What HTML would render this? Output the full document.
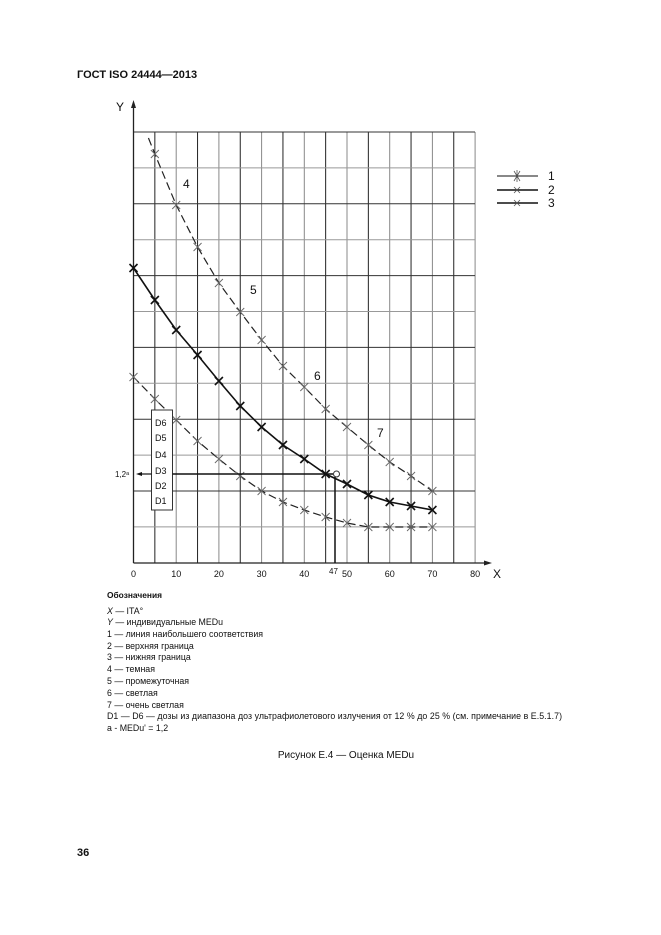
<!DOCTYPE html>
<html><head><meta charset="utf-8"><style>
body{margin:0;background:#fff}
svg{display:block}
text{font-family:"Liberation Sans",sans-serif;fill:#111}
</style></head><body>
<svg id="s" width="661" height="935" viewBox="0 0 661 935" xmlns="http://www.w3.org/2000/svg">
<text x="77" y="78" font-size="11" font-weight="bold">ГОСТ ISO 24444—2013</text>
<g id="grid" stroke="#444" stroke-width="1"></g>
<line x1="133.5" y1="563" x2="133.5" y2="104" stroke="#222" stroke-width="1.3"/>
<polygon points="133.5,100 131,108 136,108" fill="#222"/>
<text x="116" y="111" font-size="12">Y</text>
<line x1="133.5" y1="563" x2="488" y2="563" stroke="#222" stroke-width="1.3"/>
<polygon points="492,563 484,560.5 484,565.5" fill="#222"/>
<text x="493" y="578" font-size="12">X</text>
<g font-size="9" fill="#333" id="xl"></g>
<g id="curves" fill="none"></g>
<text x="183" y="188" font-size="12">4</text>
<text x="250" y="294" font-size="12">5</text>
<text x="314" y="380" font-size="12">6</text>
<text x="377" y="437" font-size="12">7</text>
<rect x="151.5" y="410" width="21" height="100" fill="#fff" stroke="#333"/>
<g font-size="9" fill="#333">
<text x="155" y="426">D6</text><text x="155" y="441">D5</text><text x="155" y="458">D4</text>
<text x="155" y="474">D3</text><text x="155" y="489">D2</text><text x="155" y="504">D1</text>
</g>
<line x1="140" y1="474" x2="151.5" y2="474" stroke="#111" stroke-width="1.2"/>
<line x1="172.5" y1="474" x2="333" y2="474" stroke="#111" stroke-width="1.5"/>
<polygon points="136,474 142,472 142,476" fill="#111"/>
<text x="115" y="477" font-size="8" fill="#333">1,2ᵃ</text>
<circle cx="336.5" cy="474" r="3" fill="#fff" stroke="#333"/>
<line x1="335" y1="477" x2="335" y2="563" stroke="#111" stroke-width="1.5"/>
<text x="329" y="574" font-size="8" fill="#333">47</text>
<g stroke="#111" stroke-width="1"><line x1="497" y1="176" x2="538" y2="176"/><line x1="497" y1="190" x2="538" y2="190" stroke-width="1.6"/><line x1="497" y1="203" x2="538" y2="203" stroke-width="1.6"/></g>
<g stroke="#555" stroke-width="0.8"><path d="M514,171 l6,10 M520,171 l-6,10 M517,170 v12"/><path d="M514,187 l6,6 M520,187 l-6,6"/><path d="M514,200 l6,6 M520,200 l-6,6"/></g>
<text x="548" y="180" font-size="12">1</text><text x="548" y="194" font-size="12">2</text><text x="548" y="207" font-size="12">3</text>
<g font-size="8.8" fill="#222">
<text x="107" y="598" font-weight="bold" font-size="8.4">Обозначения</text>
<text x="107" y="614"><tspan font-style="italic">X</tspan> — ITA°</text>
<text x="107" y="625"><tspan font-style="italic">Y</tspan> — индивидуальные MEDu</text>
<text x="107" y="637">1 — линия наибольшего соответствия</text>
<text x="107" y="649">2 — верхняя граница</text>
<text x="107" y="660">3 — нижняя граница</text>
<text x="107" y="672">4 — темная</text>
<text x="107" y="684">5 — промежуточная</text>
<text x="107" y="696">6 — светлая</text>
<text x="107" y="708">7 — очень светлая</text>
<text x="107" y="719" textLength="455" lengthAdjust="spacing">D1 — D6 — дозы из диапазона доз ультрафиолетового излучения от 12 % до 25 % (см. примечание в E.5.1.7)</text>
<text x="107" y="731">a - MEDu' = 1,2</text>
</g>
<text x="346" y="758" font-size="10" text-anchor="middle">Рисунок Е.4 — Оценка MEDu</text>
<text x="77" y="856" font-size="11" font-weight="bold">36</text>
</svg>
<script>
var NS="http://www.w3.org/2000/svg";
function X(v){return 133.5+v*4.27}
function el(p,t,a){var e=document.createElementNS(NS,t);for(var k in a)e.setAttribute(k,a[k]);p.appendChild(e);return e}
var g=document.getElementById('grid');
for(var i=1;i<=16;i++){var x=X(i*5);el(g,'line',{x1:x,y1:132,x2:x,y2:563,stroke:(i%2?'#222':'#888')})}
for(var j=0;j<12;j++){var y=132+j*35.9;el(g,'line',{x1:133.5,y1:y,x2:475,y2:y,stroke:(j%2?'#999':'#333')})}
var xl=document.getElementById('xl');
for(var v=0;v<=80;v+=10){var t=el(xl,'text',{x:X(v),y:577,'text-anchor':'middle'});t.textContent=v}
var c=document.getElementById('curves');
var xs=[0,5,10,15,20,25,30,35,40,45,50,55,60,65,70];
var mid=[268,300,330,355,381,406,427,445,459,474,484,495,502,506,510];
var up=[null,154,205,247,283,312,340,366,387,409,427,445,462,476,491];
var lo=[377,399,420,441,459,476,491,502,510,517,523,527,527,527,527];
function path(ys,start){var d=start||'';xs.forEach(function(x,i){if(ys[i]==null)return;d+=(d?'L':'M')+X(x)+','+ys[i]});return d}
el(c,'path',{d:path(up,'M'+X(3.5)+',138'),stroke:'#222','stroke-width':1.2,'stroke-dasharray':'8,4'});
el(c,'path',{d:path(lo),stroke:'#222','stroke-width':1.2,'stroke-dasharray':'8,4'});
el(c,'path',{d:path(mid),stroke:'#111','stroke-width':1.6});
function mk(ys,col,w,s){xs.forEach(function(x,i){if(ys[i]==null)return;var a=X(x),b=ys[i];el(c,'path',{d:'M'+(a-s)+','+(b-s)+'L'+(a+s)+','+(b+s)+'M'+(a+s)+','+(b-s)+'L'+(a-s)+','+(b+s),stroke:col,'stroke-width':w})})}
mk(up,'#666',0.9,4);mk(lo,'#666',0.9,4);mk(mid,'#111',1.6,4);
</script>
</body></html>
